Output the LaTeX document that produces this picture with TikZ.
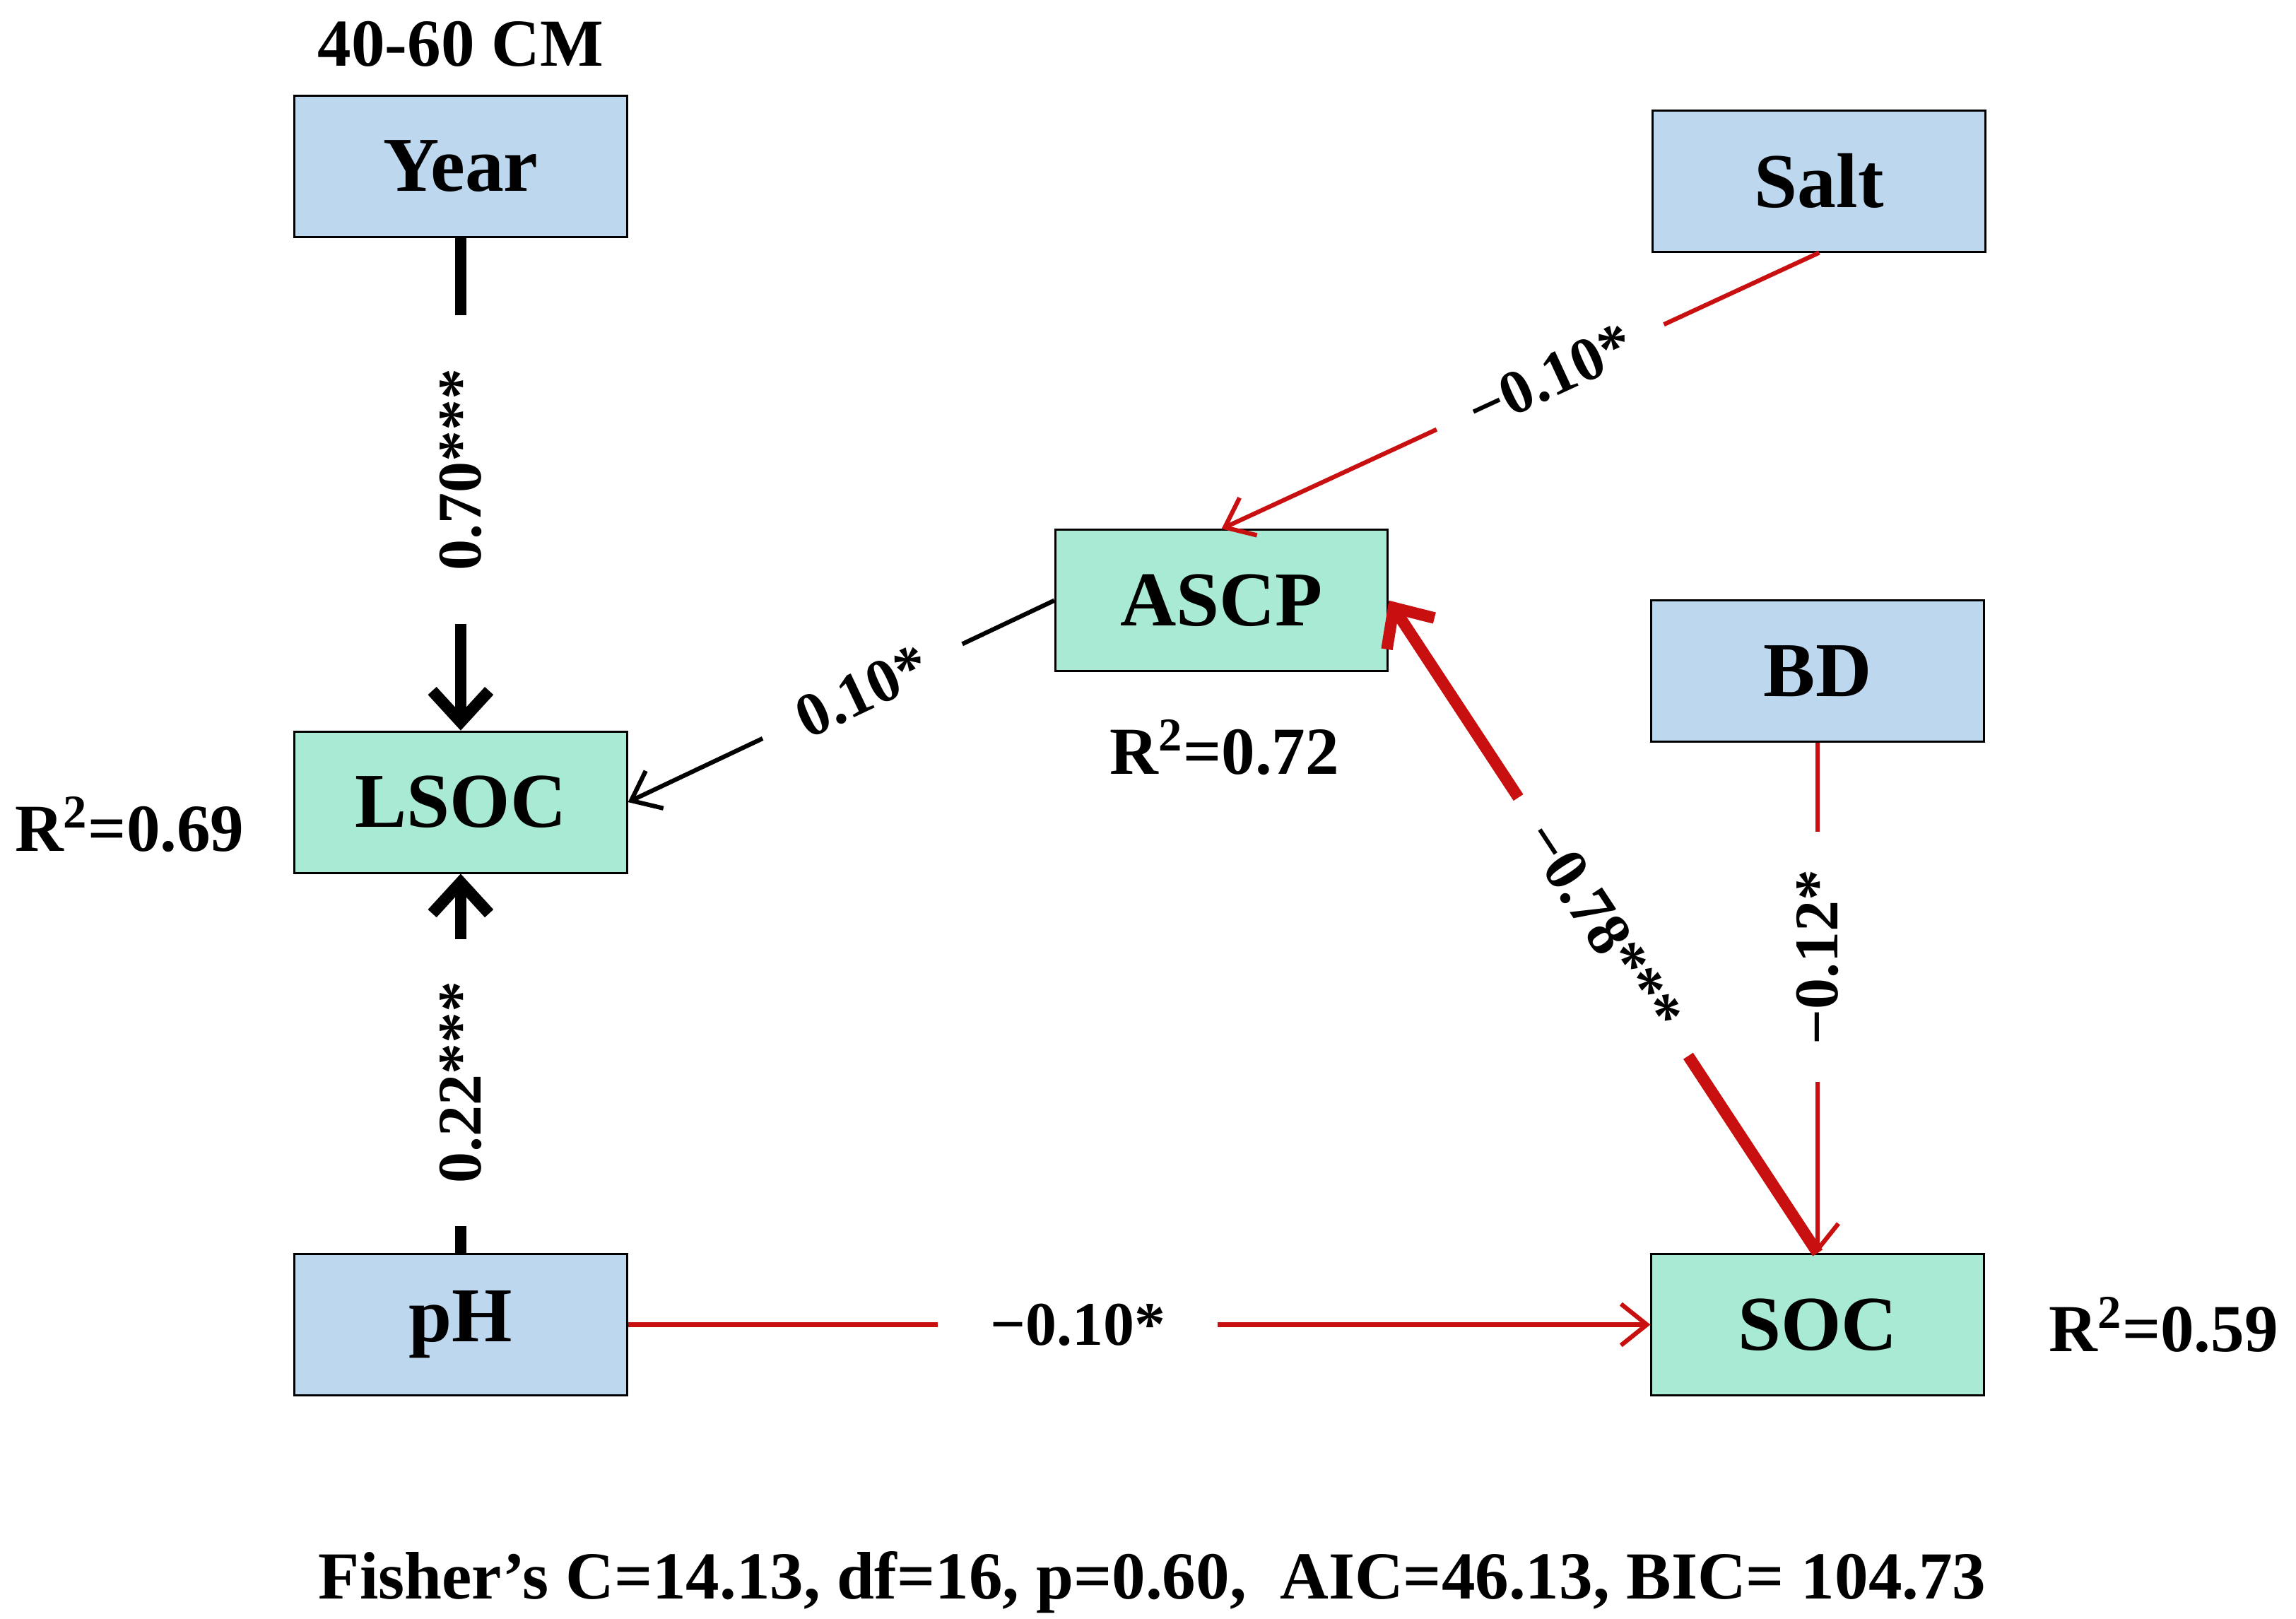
\documentclass[tikz,border=0pt]{standalone}
\usepackage{fontspec}
\setmainfont{Liberation Serif}
\usetikzlibrary{arrows.meta}
\definecolor{bluebox}{RGB}{189,215,238}
\definecolor{greenbox}{RGB}{168,234,212}
\definecolor{redline}{RGB}{200,16,16}
\begin{document}
\begin{tikzpicture}[x=0.02cm,y=-0.02cm,
  box/.style={draw=black,line width=0.8pt,minimum width=4.52cm,minimum height=1.92cm,font=\fontsize{30}{30}\selectfont\bfseries,inner sep=0pt},
  bb/.style={box,fill=bluebox},
  gb/.style={box,fill=greenbox},
  lab/.style={fill=white,font=\fontsize{24}{24}\selectfont\bfseries,inner sep=4pt},
  txt/.style={font=\fontsize{26}{26}\selectfont\bfseries},
  thinb/.style={line width=1.7pt,-{Straight Barb[length=10pt,width=16pt]}},
  thickb/.style={line width=4.5pt,-{Straight Barb[length=12pt,width=22pt]}}]
\useasboundingbox (0,0) rectangle (1560,1100);
\node[bb] (year) at (313,113) {Year};
\node[bb] (salt) at (1236,123) {Salt};
\node[gb] (ascp) at (830,408) {ASCP};
\node[bb] (bd) at (1235,456) {BD};
\node[gb] (lsoc) at (313,545) {LSOC};
\node[bb] (ph) at (313,900) {pH};
\node[gb] (soc) at (1235,900) {SOC};
\draw[thickb] (year) -- node[lab,rotate=90,pos=0.47,minimum width=4.2cm] {0.70***} (lsoc);
\draw[thickb] (ph) -- node[lab,rotate=90,pos=0.45,minimum width=3.9cm] {0.22***} (lsoc);
\draw[thinb] (ascp.west) -- node[lab,sloped,pos=0.45,minimum width=3cm] {0.10*} (lsoc.east);
\draw[thinb,redline] (salt.south) -- node[lab,sloped,pos=0.45,minimum width=3.4cm,text=black] {−0.10*} (ascp.north);
\draw[thickb,redline] (soc.north) -- node[lab,sloped,pos=0.5,minimum width=4.2cm,text=black] {−0.78***} (ascp.east);
\draw[thinb,redline] (bd) -- node[lab,rotate=90,pos=0.42,minimum width=3.4cm,text=black] {−0.12*} (soc);
\draw[thinb,redline] (ph) -- node[lab,pos=0.44,minimum width=3.8cm,text=black] {−0.10*} (soc);
\node[txt] (t1) at (313,30) {40-60 CM};
\node[txt] (r1) at (832,508) {R\textsuperscript{2}=0.72};
\node[txt] (r2) at (88,560) {R\textsuperscript{2}=0.69};
\node[txt] (r3) at (1470,900) {R\textsuperscript{2}=0.59};
\node[txt] (f) at (783,1075) {Fisher’s C=14.13, df=16, p=0.60,\ \ AIC=46.13, BIC= 104.73};
\end{tikzpicture}
\end{document}
